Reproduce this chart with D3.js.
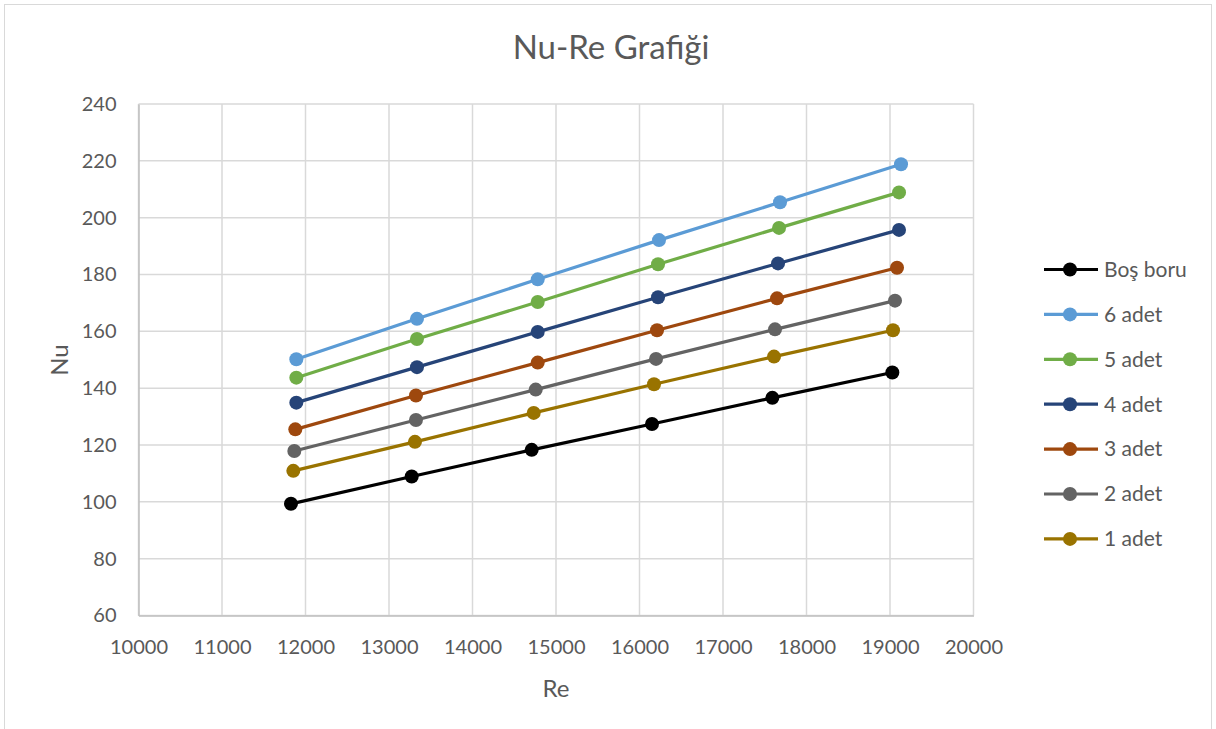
<!DOCTYPE html>
<html>
<head>
<meta charset="utf-8">
<script src="https://cdn.jsdelivr.net/npm/d3@7"></script>
<style>
  html, body { margin: 0; padding: 0; background: #fff; }
  svg text { font-family: Lato, "Open Sans", sans-serif; fill: #595959; }
</style>
</head>
<body>
<svg id="chart" width="1216" height="729"></svg>
<script>
// Reynolds numbers for each configuration
const reBos  = [11826, 13272, 14709, 16150, 17591, 19028];
const re6    = [11890, 13335, 14781, 16234, 17683, 19132];
const re5    = [11890, 13335, 14781, 16222, 17671, 19108];
const re4    = [11890, 13335, 14781, 16222, 17659, 19108];
const re3    = [11878, 13323, 14781, 16210, 17647, 19084];
const re2    = [11866, 13323, 14757, 16198, 17623, 19060];
const re1    = [11854, 13311, 14733, 16174, 17611, 19036];

// Nusselt numbers
const nuBos  = [99.3, 108.9, 118.3, 127.4, 136.6, 145.5];
const nu6    = [150.2, 164.4, 178.3, 192.1, 205.4, 218.8];
const nu5    = [143.7, 157.3, 170.3, 183.6, 196.4, 208.9];
const nu4    = [134.9, 147.4, 159.8, 172.0, 183.9, 195.7];
const nu3    = [125.5, 137.4, 149.0, 160.4, 171.6, 182.4];
const nu2    = [117.9, 128.8, 139.5, 150.3, 160.7, 170.8];
const nu1    = [110.9, 121.1, 131.3, 141.4, 151.1, 160.4];

const seriesNames  = ["Boş boru", "6 adet", "5 adet", "4 adet", "3 adet", "2 adet", "1 adet"];
const seriesColors = ["#000000", "#5B9BD5", "#70AD47", "#264478", "#9E480E", "#636363", "#997300"];
const seriesRe = [reBos, re6, re5, re4, re3, re2, re1];
const seriesNu = [nuBos, nu6, nu5, nu4, nu3, nu2, nu1];

const xTicks = [10000, 11000, 12000, 13000, 14000, 15000, 16000, 17000, 18000, 19000, 20000];
const yTicks = [60, 80, 100, 120, 140, 160, 180, 200, 220, 240];

const chartTitle = "Nu-Re Grafiği";
const xTitle = "Re";
const yTitle = "Nu";

const svg = d3.select("#chart");

// outer chart border
svg.append("rect")
  .attr("x", 4.5).attr("y", 4.5)
  .attr("width", 1207).attr("height", 740)
  .attr("fill", "none").attr("stroke", "#d9d9d9").attr("stroke-width", 1);

const plot = { left: 138.5, right: 973.5, top: 104, bottom: 615.5 };

const x = d3.scaleLinear().domain([10000, 20000]).range([plot.left, plot.right]);
const y = d3.scaleLinear().domain([60, 240]).range([plot.bottom, plot.top]);

// gridlines
const grid = svg.append("g");
grid.selectAll("line.h").data(yTicks).join("line")
  .attr("x1", plot.left).attr("x2", plot.right)
  .attr("y1", d => y(d)).attr("y2", d => y(d))
  .attr("stroke", "#d9d9d9").attr("stroke-width", 1.5);
grid.selectAll("line.v").data(xTicks).join("line")
  .attr("x1", d => x(d)).attr("x2", d => x(d))
  .attr("y1", plot.top).attr("y2", plot.bottom)
  .attr("stroke", "#d9d9d9").attr("stroke-width", 1.5);

// axes
const xAxis = d3.axisBottom(x).tickValues(xTicks).tickSize(0).tickPadding(24).tickFormat(d3.format("d"));
const yAxis = d3.axisLeft(y).tickValues(yTicks).tickSize(0).tickPadding(22).tickFormat(d3.format("d"));

const gx = svg.append("g").attr("transform", `translate(0,${plot.bottom})`).call(xAxis);
const gy = svg.append("g").attr("transform", `translate(${plot.left},0)`).call(yAxis);
[gx, gy].forEach(g => {
  g.select(".domain").attr("stroke", "#bfbfbf").attr("stroke-width", 1.5);
  g.selectAll("text").style("font-size", "20px").attr("fill", "#595959");
});

// titles
svg.append("text").attr("x", 611).attr("y", 59).attr("text-anchor", "middle")
  .style("font-size", "33px").text(chartTitle);
svg.append("text").attr("x", 556).attr("y", 697).attr("text-anchor", "middle")
  .style("font-size", "24px").text(xTitle);
svg.append("text").attr("transform", "translate(68,360) rotate(-90)").attr("text-anchor", "middle")
  .style("font-size", "24px").text(yTitle);

// series lines + markers
const line = d3.line().x(d => x(d[0])).y(d => y(d[1]));
seriesNames.forEach((name, i) => {
  const pts = seriesRe[i].map((r, j) => [r, seriesNu[i][j]]);
  const g = svg.append("g");
  g.append("path").datum(pts).attr("d", line)
    .attr("fill", "none").attr("stroke", seriesColors[i]).attr("stroke-width", 3.2);
  g.selectAll("circle").data(pts).join("circle")
    .attr("cx", d => x(d[0])).attr("cy", d => y(d[1])).attr("r", 7)
    .attr("fill", seriesColors[i]);
});

// legend
const legend = svg.append("g");
seriesNames.forEach((name, i) => {
  const cy = 269.5 + i * 44.9;
  legend.append("line").attr("x1", 1044).attr("x2", 1098).attr("y1", cy).attr("y2", cy)
    .attr("stroke", seriesColors[i]).attr("stroke-width", 3.2);
  legend.append("circle").attr("cx", 1070).attr("cy", cy).attr("r", 7).attr("fill", seriesColors[i]);
  legend.append("text").attr("x", 1104).attr("y", cy).attr("dy", "0.35em")
    .style("font-size", "21px").text(name);
});
</script>
</body>
</html>
